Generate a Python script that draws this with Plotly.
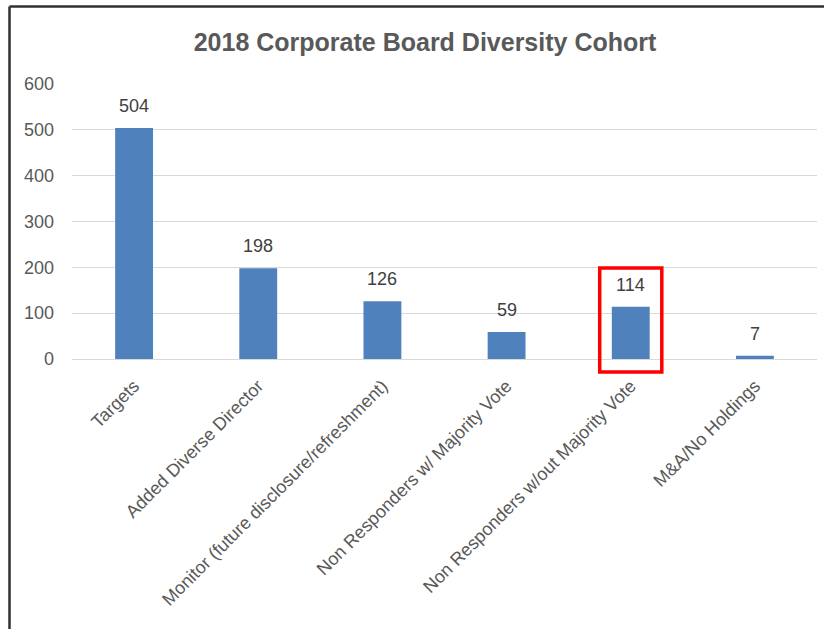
import plotly.graph_objects as go

categories = [
    "Targets",
    "Added Diverse Director",
    "Monitor (future disclosure/refreshment)",
    "Non Responders w/ Majority Vote",
    "Non Responders w/out Majority Vote",
    "M&A/No Holdings",
]
counts = [504, 198, 126, 59, 114, 7]
y_ticks = [0, 100, 200, 300, 400, 500, 600]
highlight_index = 4

FONT = "Liberation Sans, Arial, sans-serif"
W, H = 824, 629
ML, MR, MT, MB = 72, 7, 84, 270
pw, ph = W - ML - MR, H - MT - MB
n = len(categories)


def px_x(p):
    return (p - ML) / pw


def px_y(p):
    return (H - MB - p) / ph


x_idx = list(range(n))

fig = go.Figure(
    go.Bar(
        x=x_idx,
        y=counts,
        marker=dict(color="#4F81BD", line=dict(width=0)),
        width=0.305,
        hoverinfo="x+y",
    )
)

# value labels above each bar
annotations = [
    dict(x=i, y=v, xref="x", yref="y", text=str(v), showarrow=False,
         yanchor="bottom", yshift=10,
         font=dict(family=FONT, size=18, color="#404040"))
    for i, v in zip(x_idx, counts)
]

shapes = [
    # frame lines along the top and left of the chart
    dict(type="line", xref="paper", yref="paper",
         x0=px_x(9.5), x1=px_x(830), y0=px_y(6.5), y1=px_y(6.5),
         line=dict(color="#303030", width=2.5)),
    dict(type="line", xref="paper", yref="paper",
         x0=px_x(9.5), x1=px_x(9.5), y0=px_y(6.5), y1=px_y(640),
         line=dict(color="#303030", width=2.5)),
    # red box highlighting one category
    dict(type="rect", xref="paper", yref="paper",
         x0=(highlight_index + 0.25) / n, x1=(highlight_index + 0.75) / n,
         y0=px_y(372), y1=px_y(268),
         line=dict(color="#FF0000", width=3.5)),
]

fig.update_layout(
    width=W, height=H,
    margin=dict(l=ML, r=MR, t=MT, b=MB, autoexpand=False),
    paper_bgcolor="white", plot_bgcolor="white",
    showlegend=False,
    title=dict(
        text="<b>2018 Corporate Board Diversity Cohort</b>",
        x=425 / W, xref="container", xanchor="center",
        y=1 - 42 / H, yanchor="middle",
        font=dict(family=FONT, size=25, color="#595959"),
    ),
    shapes=shapes,
    annotations=annotations,
    xaxis=dict(
        tickmode="array", tickvals=x_idx, ticktext=categories,
        range=[-0.5, n - 0.5],
        tickangle=-45, showgrid=False, zeroline=False, showline=False,
        ticks="", ticklabelstandoff=12,
        tickfont=dict(family=FONT, size=18, color="#595959"),
    ),
    yaxis=dict(
        range=[0, 600], tickvals=y_ticks,
        showgrid=True, gridcolor="#D9D9D9", gridwidth=1,
        zeroline=True, zerolinecolor="#D9D9D9", zerolinewidth=1,
        showline=False, ticks="", ticklabelstandoff=17,
        tickfont=dict(family=FONT, size=18, color="#595959"),
    ),
)

fig.write_html("out.html")
